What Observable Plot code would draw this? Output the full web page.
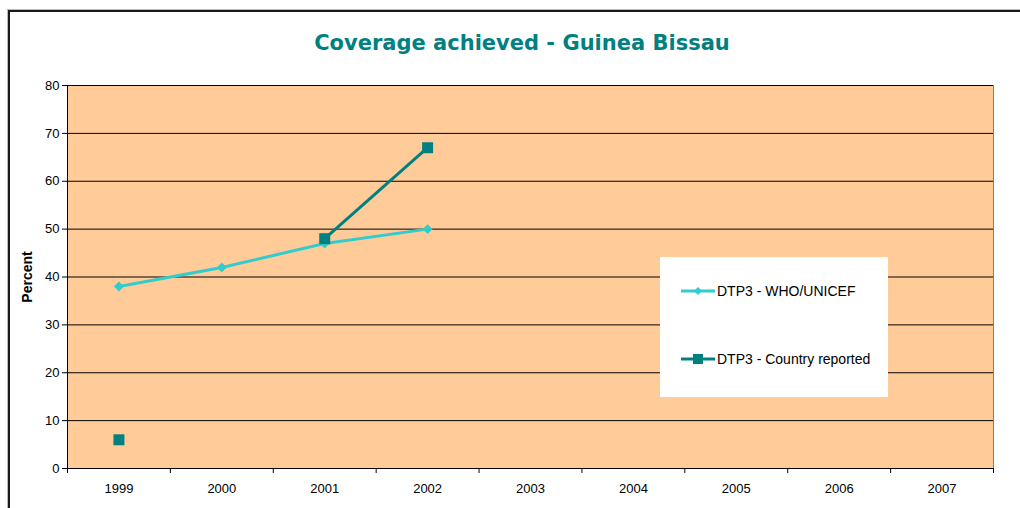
<!DOCTYPE html>
<html>
<head>
<meta charset="utf-8">
<script src="https://cdn.jsdelivr.net/npm/d3@7"></script>
<script src="https://cdn.jsdelivr.net/npm/@observablehq/plot@0.6"></script>
<style>
  html, body { margin: 0; padding: 0; background: #fff; overflow: hidden; }
  #wrap { position: relative; width: 1020px; height: 508px; }
  #border { position: absolute; left: 8px; top: 10px; width: 1100px; height: 600px;
    border: 2px solid #1a1a1a; box-shadow: 0 0 0 1px #bbb; box-sizing: border-box; }
  #title { position: absolute; left: 0; top: 0; width: 1044px; height: 62px; text-align: center;
    font-family: "DejaVu Sans", Verdana, sans-serif; font-weight: bold; font-size: 21px;
    color: #008080; line-height: 86px; }
  #chart { position: absolute; left: 0; top: 62px; }
  #legend { position: absolute; left: 660px; top: 257px; width: 228px; height: 140px; background: #fff;
    font-family: "Liberation Sans", Arial, sans-serif; font-size: 14px; color: #000; }
  .item { position: absolute; left: 21px; display: flex; align-items: center; }
  .item svg { margin-right: 2px; }
</style>
</head>
<body>
<div id="wrap">
  <div id="border"></div>
  <div id="title">Coverage achieved - Guinea Bissau</div>
  <div id="chart"></div>
  <div id="legend"></div>
</div>
<script>
const years = [1999, 2000, 2001, 2002, 2003, 2004, 2005, 2006, 2007];
const whoUnicef = [38, 42, 47, 50, null, null, null, null, null];
const countryReported = [6, null, 48, 67, null, null, null, null, null];
const yTicks = [0, 10, 20, 30, 40, 50, 60, 70, 80];
const seriesNames = ["DTP3 - WHO/UNICEF", "DTP3 - Country reported"];
const colors = ["#33CCCC", "#008080"];

const who = years.map((year, i) => ({year, value: whoUnicef[i]}));
const cr = years.map((year, i) => ({year, value: countryReported[i]}));
const bounds = [years[0] - 0.5, ...years.map(y => y + 0.5)];

const chart = Plot.plot({
  width: 1020,
  height: 446,
  marginLeft: 67,
  marginRight: 27,
  marginTop: 23,
  marginBottom: 40,
  style: {fontFamily: "'Liberation Sans', Arial, sans-serif", fontSize: "13px", color: "#000", background: "transparent"},
  x: {domain: [bounds[0], bounds[bounds.length - 1]]},
  y: {domain: [0, 80]},
  marks: [
    Plot.frame({fill: "#FFCC99", stroke: "#808080"}),
    Plot.gridY(yTicks, {stroke: "#000", strokeOpacity: 1}),
    Plot.ruleX([bounds[0]], {stroke: "#000"}),
    Plot.ruleY([0], {stroke: "#000"}),
    Plot.axisY(yTicks, {tickSize: 5, tickPadding: 3, label: null}),
    Plot.text(["Percent"], {frameAnchor: "left", textAnchor: "middle", dx: -40, rotate: -90, fontWeight: "bold", fontSize: 14}),
    Plot.axisX(bounds, {tickSize: 5, tickFormat: () => "", label: null}),
    Plot.axisX(years, {tickSize: 0, tickPadding: 15, tickFormat: d => String(d), label: null}),
    Plot.line(who, {x: "year", y: "value", stroke: colors[0], strokeWidth: 3}),
    Plot.dot(who, {x: "year", y: "value", symbol: "diamond2", r: 4.5, fill: colors[0], stroke: "none"}),
    Plot.line(cr, {x: "year", y: "value", stroke: colors[1], strokeWidth: 3}),
    Plot.dot(cr, {x: "year", y: "value", symbol: "square", r: 6.2, fill: colors[1], stroke: "none"})
  ]
});
d3.select(chart).selectAll("text").each(function () {
  this.style.fontSize = this.textContent === "Percent" ? "14px" : "13px";
});
document.getElementById("chart").appendChild(chart);

// legend
const legend = document.getElementById("legend");
const tops = [26, 94];
seriesNames.forEach((name, i) => {
  const item = document.createElement("div");
  item.className = "item";
  item.style.top = tops[i] + "px";
  const marker = i === 0
    ? `<polygon points="17,2 21,6 17,10 13,6" fill="${colors[i]}"/>`
    : `<rect x="12" y="1" width="10" height="10" fill="${colors[i]}"/>`;
  item.innerHTML = `<svg width="34" height="12"><line x1="0" x2="34" y1="6" y2="6" stroke="${colors[i]}" stroke-width="3"/>${marker}</svg><span>${name}</span>`;
  legend.appendChild(item);
});
</script>
</body>
</html>
